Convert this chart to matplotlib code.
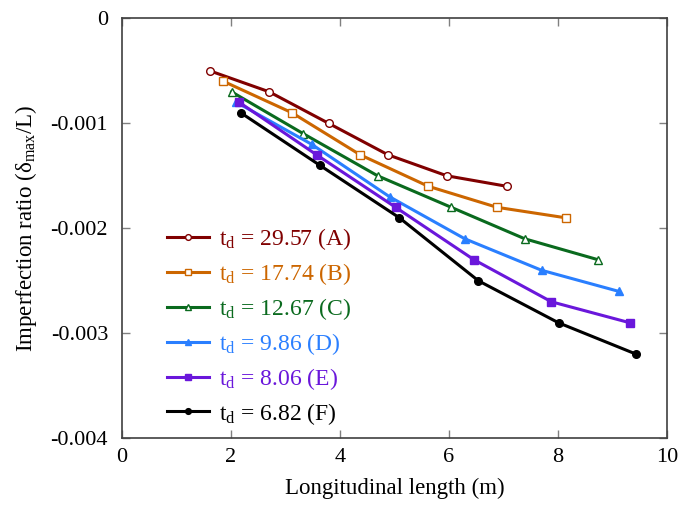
import matplotlib
matplotlib.use("Agg")
import matplotlib.pyplot as plt
from matplotlib.ticker import FuncFormatter

plt.rcParams['font.family'] = ['Liberation Serif', 'DejaVu Serif']
plt.rcParams['axes.unicode_minus'] = False
plt.rcParams['mathtext.default'] = 'regular'

labels = ["t$_\\mathregular{d}$ = 29.57 (A)", "t$_\\mathregular{d}$ = 17.74 (B)",
          "t$_\\mathregular{d}$ = 12.67 (C)", "t$_\\mathregular{d}$ = 9.86 (D)",
          "t$_\\mathregular{d}$ = 8.06 (E)", "t$_\\mathregular{d}$ = 6.82 (F)"]

x_A = [1.61, 2.70, 3.79, 4.88, 5.96, 7.06]
y_A = [-0.0005, -0.0007, -0.0010, -0.0013, -0.0015, -0.0016]
x_B = [1.86, 3.12, 4.37, 5.62, 6.88, 8.14]
y_B = [-0.0006, -0.0009, -0.0013, -0.0016, -0.0018, -0.0019]
x_C = [2.01, 3.33, 4.69, 6.04, 7.39, 8.74]
y_C = [-0.0007, -0.0011, -0.0015, -0.0018, -0.0021, -0.0023]
x_D = [2.10, 3.48, 4.91, 6.29, 7.70, 9.11]
y_D = [-0.0008, -0.0012, -0.0017, -0.0021, -0.0024, -0.0026]
x_E = [2.15, 3.57, 5.02, 6.46, 7.88, 9.32]
y_E = [-0.0008, -0.0013, -0.0018, -0.0023, -0.0027, -0.0029]
x_F = [2.18, 3.63, 5.09, 6.54, 8.01, 9.44]
y_F = [-0.0009, -0.0014, -0.0019, -0.0025, -0.0029, -0.0032]

xs = [x_A, x_B, x_C, x_D, x_E, x_F]
ys = [y_A, y_B, y_C, y_D, y_E, y_F]
colors = ['#800000', '#CC6600', '#0A6A1E', '#2A7FFF', '#6A17DB', '#000000']
markers = ['o', 's', '^', '^', 's', 'o']
filled = [False, False, False, True, True, True]

x_ticks = [0, 2, 4, 6, 8, 10]
y_ticks = [0, -0.001, -0.002, -0.003, -0.004]

fig = plt.figure(figsize=(6.8, 5.08), dpi=100)
ax = fig.add_axes([0.1794, 0.1372, 0.8015, 0.8268])

for x, y, c, m, f, lab in zip(xs, ys, colors, markers, filled, labels):
    ax.plot(x, y, color=c, lw=2.2, marker=m, markersize=5.5,
            markerfacecolor=c if f else 'white', markeredgecolor=c,
            markeredgewidth=1.0, label=lab)

ax.set_xlim(0, 10)
ax.set_ylim(-0.004, 0)
ax.set_xticks(x_ticks)
ax.set_yticks(y_ticks)
ax.yaxis.set_major_formatter(FuncFormatter(lambda v, p: '0' if abs(v) < 1e-12 else f'{v:.3f}'))
ax.tick_params(axis='both', direction='in', length=6, width=1, color='#808080',
               top=True, right=True, labelsize=16)
ax.tick_params(axis='y', pad=10)
ax.tick_params(axis='x', pad=7)
for s in ax.spines.values():
    s.set_color('#404040')
    s.set_linewidth(1.2)

ax.set_xlabel('Longitudinal length (m)', fontsize=16.5, labelpad=8)
ax.set_ylabel('Imperfection ratio (δ$_\\mathregular{max}$/L)', fontsize=16.5, labelpad=8)

leg = ax.legend(loc='upper left', bbox_to_anchor=(0.083, 0.505), frameon=False,
                fontsize=17, handlelength=1.75, handletextpad=0.45,
                labelspacing=0.38, borderpad=0, borderaxespad=0, markerscale=0.75)
for t, c in zip(leg.get_texts(), colors):
    t.set_color(c)

fig.savefig('out.png', dpi=100)
